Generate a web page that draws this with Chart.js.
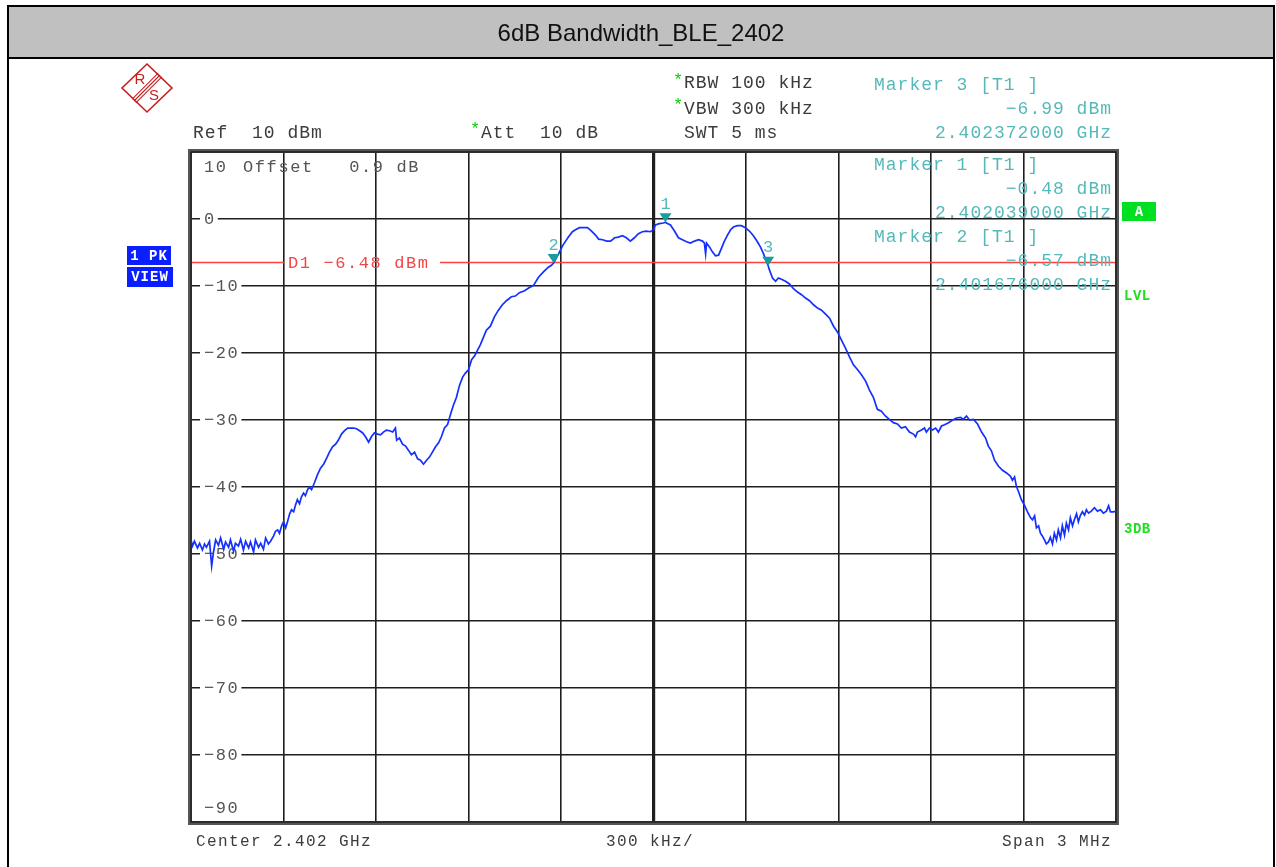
<!DOCTYPE html>
<html>
<head>
<meta charset="utf-8">
<script src="https://cdn.jsdelivr.net/npm/chart.js@4.4.1/dist/chart.umd.min.js"></script>
<style>
  html, body { margin: 0; padding: 0; background: #fff; }
  #wrap { width: 1276px; height: 867px; position: relative; }
</style>
</head>
<body>
<div id="wrap"><canvas id="screen"></canvas></div>
<script>
// Trace 1 (peak detector), offset from centre in kHz
const freqKHz = [
  -1500,-1495,-1489,-1479,-1472,-1463,-1456,-1450,-1440,-1433,
  -1427,-1420,-1411,-1404,-1394,-1388,-1378,-1372,-1362,-1356,
  -1346,-1339,-1330,-1323,-1313,-1307,-1297,-1291,-1281,-1274,
  -1265,-1258,-1249,-1242,-1232,-1226,-1219,-1213,-1206,-1200,
  -1193,-1187,-1180,-1174,-1167,-1161,-1155,-1148,-1142,-1135,
  -1129,-1122,-1116,-1109,-1099,-1090,-1080,-1070,-1060,-1051,
  -1041,-1031,-1022,-1012,-1002,-992,-983,-973,-963,-953,
  -944,-934,-924,-915,-905,-895,-885,-876,-866,-856,
  -846,-837,-833,-824,-814,-804,-795,-785,-775,-765,
  -756,-746,-736,-726,-717,-707,-697,-688,-678,-668,
  -658,-649,-639,-629,-619,-610,-600,-590,-580,-571,
  -561,-551,-542,-529,-516,-503,-490,-477,-461,-448,
  -435,-418,-405,-389,-373,-357,-341,-331,-324,-308,
  -295,-285,-276,-263,-253,-240,-227,-214,-201,-188,
  -178,-165,-152,-139,-126,-114,-101,-88,-75,-62,
  -49,-36,-23,-10,0,6,19,32,39,42,
  55,68,81,94,107,120,133,146,159,165,
  169,172,182,191,201,211,221,230,240,250,
  259,272,285,298,311,324,337,347,357,366,
  372,376,386,396,405,415,428,441,454,467,
  480,493,506,519,532,545,558,571,584,597,
  610,623,636,649,662,675,688,700,713,726,
  739,752,765,778,791,804,817,830,843,850,
  856,869,879,885,895,905,915,924,934,944,
  957,970,983,996,1005,1015,1025,1038,1051,1064,
  1077,1086,1096,1106,1119,1132,1145,1158,1164,1171,
  1177,1184,1193,1203,1213,1223,1229,1236,1242,1249,
  1255,1261,1268,1274,1281,1287,1294,1300,1307,1313,
  1320,1326,1333,1339,1346,1352,1359,1365,1372,1378,
  1384,1391,1398,1404,1411,1420,1430,1440,1450,1459,
  1469,1476,1482,1492,1500
];
const levelDbm = [
  -47.9,-48.8,-48.1,-49.1,-48.4,-49.4,-48.5,-49.0,-48.1,-51.8,
  -49.7,-47.9,-48.7,-47.6,-49.3,-48.2,-49.0,-47.9,-49.6,-48.4,
  -48.8,-47.8,-49.4,-48.1,-49.1,-48.2,-49.7,-47.9,-49.0,-48.4,
  -49.3,-47.6,-48.5,-48.1,-47.3,-46.6,-46.4,-46.9,-45.8,-45.2,
  -46.1,-45.2,-44.0,-43.4,-43.7,-42.7,-41.9,-42.5,-41.5,-40.9,
  -41.3,-40.4,-40.0,-40.4,-39.3,-38.2,-37.2,-36.6,-35.7,-34.8,
  -34.0,-33.6,-33.0,-32.1,-31.6,-31.2,-31.2,-31.2,-31.3,-31.6,
  -31.9,-32.5,-33.3,-32.5,-31.9,-32.1,-32.2,-31.8,-31.5,-31.6,
  -31.8,-31.2,-33.0,-32.7,-33.6,-33.9,-34.5,-35.2,-34.8,-35.8,
  -36.0,-36.6,-36.0,-35.5,-34.8,-34.0,-33.4,-32.5,-31.2,-30.7,
  -29.1,-27.8,-26.6,-24.8,-23.6,-23.0,-22.5,-21.0,-20.4,-19.6,
  -18.7,-17.6,-16.6,-16.0,-14.6,-13.6,-12.8,-12.2,-11.6,-11.5,
  -11.0,-10.7,-10.3,-9.9,-8.7,-7.9,-7.2,-6.9,-6.57,-5.2,
  -4.0,-3.3,-2.7,-1.9,-1.6,-1.3,-1.3,-1.3,-1.8,-2.4,
  -3.0,-3.1,-3.3,-3.3,-2.8,-2.7,-2.5,-2.8,-3.3,-2.8,
  -2.2,-1.9,-1.8,-1.9,-1.6,-0.9,-0.7,-0.6,-0.48,-0.6,
  -0.9,-1.8,-2.8,-3.1,-3.4,-3.6,-3.3,-3.1,-3.3,-3.6,
  -5.2,-3.6,-4.2,-4.9,-5.5,-5.4,-4.3,-3.3,-2.4,-1.6,
  -1.2,-1.0,-1.0,-1.3,-1.8,-2.5,-3.4,-4.2,-5.2,-6.3,
  -6.99,-7.6,-8.8,-9.3,-8.8,-9.0,-9.3,-9.7,-10.4,-10.9,
  -11.3,-11.8,-12.2,-12.8,-13.3,-13.6,-14.2,-14.8,-16.0,-16.9,
  -18.1,-19.3,-20.6,-21.8,-22.5,-23.3,-24.2,-25.5,-26.6,-28.4,
  -28.7,-29.4,-29.9,-30.4,-30.6,-31.2,-31.0,-31.8,-32.1,-32.5,
  -31.8,-31.5,-31.2,-31.8,-31.2,-31.5,-31.2,-31.8,-30.9,-30.7,
  -30.4,-30.0,-29.7,-29.6,-29.9,-29.4,-30.0,-29.9,-30.6,-31.8,
  -32.7,-33.9,-34.6,-36.0,-36.9,-37.5,-37.9,-38.4,-39.0,-38.5,
  -39.9,-40.7,-41.9,-42.7,-43.7,-44.6,-44.9,-44.3,-46.1,-45.8,
  -46.9,-47.3,-47.9,-48.5,-48.2,-47.5,-48.5,-46.9,-47.9,-46.4,
  -47.6,-45.8,-47.2,-45.4,-46.4,-44.6,-45.8,-44.9,-44.0,-45.2,
  -44.3,-43.7,-44.2,-43.4,-43.9,-43.6,-43.1,-43.6,-43.4,-43.9,
  -43.6,-42.8,-43.7,-43.7,-43.6
];

// level axis (dBm) and the labels printed inside the grid
const levelTicks = [10, 0, -10, -20, -30, -40, -50, -60, -70, -80, -90];
const levelTickLabels = ['10', '0', '−10', '−20', '−30', '−40', '−50', '−60', '−70', '−80', '−90'];

// markers
const markerNums = [1, 2, 3];
const markerFreqKHz = [39, -324, 372];
const markerLevels = [-0.48, -6.57, -6.99];
const markerListOrder = [3, 1, 2];

// display line D1
const displayLineDbm = -6.48;

const centerGHz = 2.402;
const spanKHz = 3000;

const MONO = '"Liberation Mono", "DejaVu Sans Mono", monospace';
const TEAL = '#55b9b9';
const GREY = '#3c3c3c';

function txt(ctx, s, x, y, color, size, opts = {}) {
    ctx.font = (opts.bold ? 'bold ' : '') + size + 'px ' + (opts.family || MONO);
    ctx.fillStyle = color;
    ctx.textAlign = opts.align || 'left';
    ctx.textBaseline = 'middle';
    ctx.letterSpacing = (opts.ls !== undefined ? opts.ls : 1) + 'px';
    ctx.fillText(s, x, y);
    const w = ctx.measureText(s).width;
    ctx.letterSpacing = '0px';
    return w;
}

function minus(v) {
    return v < 0 ? '−' + Math.abs(v).toFixed(2) : v.toFixed(2);
}

// R&S logo
function drawLogo(ctx, cx, cy) {
    ctx.save();
    ctx.strokeStyle = '#c81e1e';
    ctx.fillStyle = '#c81e1e';
    ctx.lineWidth = 1.6;
    ctx.beginPath();
    ctx.moveTo(cx, cy - 24);
    ctx.lineTo(cx + 25, cy);
    ctx.lineTo(cx, cy + 24);
    ctx.lineTo(cx - 25, cy);
    ctx.closePath();
    ctx.stroke();
    ctx.lineWidth = 1.1;
    for (let k = -1; k <= 1; k++) {
        const o = k * 1.8;
        ctx.beginPath();
        ctx.moveTo(cx + 13 + o, cy - 13 + o);
        ctx.lineTo(cx - 13 + o, cy + 13 + o);
        ctx.stroke();
    }
    ctx.font = '15px "Liberation Sans", Arial, sans-serif';
    ctx.textAlign = 'center';
    ctx.textBaseline = 'middle';
    ctx.fillText('R', cx - 7, cy - 8);
    ctx.fillText('S', cx + 7, cy + 8);
    ctx.restore();
}

const screenPlugin = {
    id: 'rsScreen',
    beforeDraw(chart) {
        const ctx = chart.ctx;
        ctx.save();
        ctx.fillStyle = '#fff';
        ctx.fillRect(0, 0, chart.width, chart.height);

        // title bar and page border
        ctx.fillStyle = '#c0c0c0';
        ctx.fillRect(8, 6, 1266, 52);
        ctx.strokeStyle = '#000';
        ctx.lineWidth = 2;
        ctx.strokeRect(8, 6, 1266, 52);
        ctx.beginPath();
        ctx.moveTo(8, 58); ctx.lineTo(8, 867);
        ctx.moveTo(1274, 58); ctx.lineTo(1274, 867);
        ctx.stroke();
        txt(ctx, '6dB Bandwidth_BLE_2402', 641, 34, '#111', 24,
            { family: '"Liberation Sans", Arial, sans-serif', align: 'center', ls: 0 });

        drawLogo(ctx, 147, 88);

        // instrument settings
        txt(ctx, 'Ref  10 dBm', 193, 133, GREY, 18);
        txt(ctx, '*', 470, 129, '#00cc00', 17, { ls: 0 });
        txt(ctx, 'Att  10 dB', 481, 133, GREY, 18);
        txt(ctx, '*', 673, 80, '#00cc00', 17, { ls: 0 });
        txt(ctx, 'RBW 100 kHz', 684, 83, GREY, 18);
        txt(ctx, '*', 673, 105, '#00cc00', 17, { ls: 0 });
        txt(ctx, 'VBW 300 kHz', 684, 109, GREY, 18);
        txt(ctx, 'SWT 5 ms', 684, 133, GREY, 18);

        // trace mode boxes
        ctx.fillStyle = '#0a1eff';
        ctx.fillRect(127, 246, 44, 19);
        ctx.fillRect(127, 267, 46, 20);
        txt(ctx, '1 PK', 149, 256, '#fff', 14, { bold: true, align: 'center', ls: 1 });
        txt(ctx, 'VIEW', 150, 277, '#fff', 14, { bold: true, align: 'center', ls: 1 });

        // right side flags
        ctx.fillStyle = '#00e020';
        ctx.fillRect(1122, 202, 34, 19);
        txt(ctx, 'A', 1139, 212, '#fff', 14, { bold: true, align: 'center', ls: 0 });
        txt(ctx, 'LVL', 1124, 296, '#22dd22', 14, { bold: true, ls: 0.5 });
        txt(ctx, '3DB', 1124, 529, '#22dd22', 14, { bold: true, ls: 0.5 });

        // bottom annotation
        txt(ctx, 'Center ' + centerGHz + ' GHz', 196, 842, GREY, 16, { ls: 1.4 });
        txt(ctx, (spanKHz / 10) + ' kHz/', 606, 842, GREY, 16, { ls: 1.4 });
        txt(ctx, 'Span ' + (spanKHz / 1000) + ' MHz', 1112, 842, GREY, 16, { align: 'right', ls: 1.4 });
        ctx.restore();
    },
    beforeDatasetsDraw(chart) {
        const ctx = chart.ctx;
        const { left, right, top, bottom } = chart.chartArea;
        const ys = chart.scales.y;
        ctx.save();

        // level labels sitting in gaps of the grid lines
        levelTicks.forEach((v, i) => {
            let y = ys.getPixelForValue(v);
            if (v === levelTicks[0]) y = top + 15;
            if (v === levelTicks[levelTicks.length - 1]) y = bottom - 14;
            ctx.font = '17px ' + MONO;
            ctx.letterSpacing = '1.6px';
            const w = ctx.measureText(levelTickLabels[i]).width;
            ctx.letterSpacing = '0px';
            ctx.fillStyle = '#fff';
            ctx.fillRect(left + 9, y - 3, w + 6, 6);
            txt(ctx, levelTickLabels[i], left + 13, y, '#555', 17, { ls: 1.6 });
        });
        txt(ctx, 'Offset   0.9 dB', 243, top + 15, '#555', 17, { ls: 1.6 });

        // display line D1
        const yD = ys.getPixelForValue(displayLineDbm);
        ctx.strokeStyle = '#ff4040';
        ctx.lineWidth = 1.5;
        ctx.beginPath();
        ctx.moveTo(left, yD); ctx.lineTo(284, yD);
        ctx.moveTo(440, yD); ctx.lineTo(right, yD);
        ctx.stroke();
        txt(ctx, 'D1 ' + minus(displayLineDbm) + ' dBm', 288, yD + 1, '#f04848', 17, { ls: 1.6 });

        // marker readout
        let yy = 85;
        markerListOrder.forEach(n => {
            const i = markerNums.indexOf(n);
            txt(ctx, 'Marker ' + n + ' [T1 ]', 874, yy, TEAL, 18);
            txt(ctx, minus(markerLevels[i]) + ' dBm', 1112, yy + 24, TEAL, 18, { align: 'right' });
            txt(ctx, (centerGHz + markerFreqKHz[i] / 1e6).toFixed(9) + ' GHz', 1112, yy + 48, TEAL, 18, { align: 'right' });
            yy += n === 3 ? 80 : 72;
        });

        // screen frame
        ctx.strokeStyle = '#555';
        ctx.lineWidth = 4;
        ctx.strokeRect(left - 1, top - 1, right - left + 2, bottom - top + 2);
        ctx.strokeStyle = '#111';
        ctx.lineWidth = 1.2;
        ctx.strokeRect(left, top, right - left, bottom - top);
        ctx.restore();
    },
    afterDatasetsDraw(chart) {
        const ctx = chart.ctx;
        const xs = chart.scales.x, ys = chart.scales.y;
        ctx.save();
        markerNums.forEach((n, i) => {
            const x = xs.getPixelForValue(markerFreqKHz[i]);
            const y = ys.getPixelForValue(markerLevels[i]);
            ctx.fillStyle = '#1a9c9c';
            ctx.beginPath();
            ctx.moveTo(x - 6, y - 9);
            ctx.lineTo(x + 6, y - 9);
            ctx.lineTo(x, y);
            ctx.closePath();
            ctx.fill();
            txt(ctx, String(n), x, y - 18, TEAL, 17, { align: 'center', ls: 0 });
        });
        ctx.restore();
    }
};

new Chart(document.getElementById('screen'), {
    type: 'line',
    data: {
        datasets: [{
            label: 'Trace 1',
            data: freqKHz.map((f, i) => ({ x: f, y: levelDbm[i] })),
            borderColor: '#1430ff',
            borderWidth: 1.7,
            pointRadius: 0,
            tension: 0,
            fill: false
        }]
    },
    options: {
        responsive: true,
        maintainAspectRatio: false,
        animation: false,
        layout: { padding: { left: 191, right: 160, top: 152, bottom: 45 } },
        plugins: { legend: { display: false }, tooltip: { enabled: false } },
        scales: {
            x: {
                type: 'linear',
                min: -spanKHz / 2,
                max: spanKHz / 2,
                ticks: { display: false, stepSize: spanKHz / 10 },
                grid: {
                    color: '#1e1e1e',
                    lineWidth: c => (c.tick && c.tick.value === 0 ? 3.2 : 1.6),
                    drawTicks: false
                },
                border: { display: false }
            },
            y: {
                min: levelTicks[levelTicks.length - 1],
                max: levelTicks[0],
                ticks: { display: false, stepSize: 10 },
                grid: { color: '#1e1e1e', lineWidth: 1.6, drawTicks: false },
                border: { display: false }
            }
        }
    },
    plugins: [screenPlugin]
});
</script>
</body>
</html>
